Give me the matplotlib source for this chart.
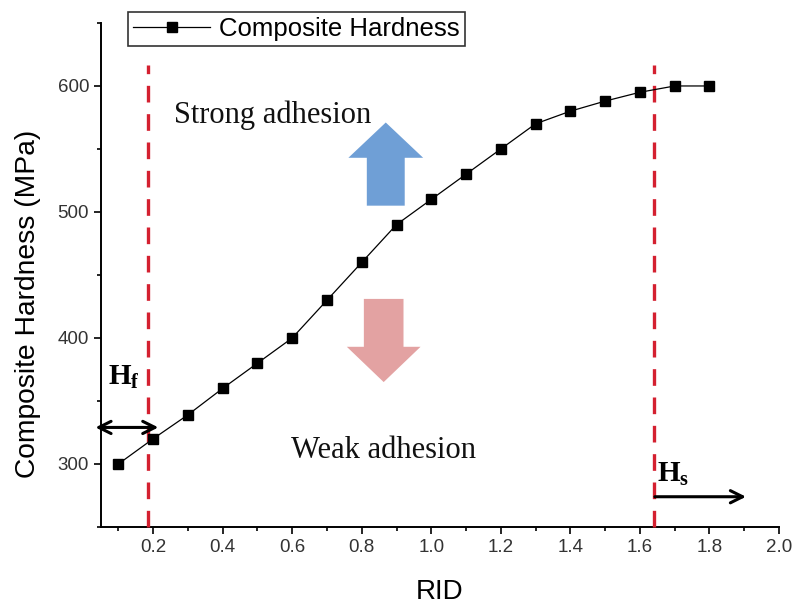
import matplotlib
matplotlib.use("Agg")
import matplotlib.pyplot as plt
from matplotlib.patches import FancyArrow
from matplotlib.ticker import MultipleLocator

# Composite hardness versus relative indentation depth
rid = [0.1, 0.2, 0.3, 0.4, 0.5, 0.6, 0.7, 0.8, 0.9, 1.0,
       1.1, 1.2, 1.3, 1.4, 1.5, 1.6, 1.7, 1.8]
hardness = [300, 320, 339, 360, 380, 400, 430, 460, 490, 510,
            530, 550, 570, 580, 588, 595, 600, 600]

# Boundaries of the film-dominated and substrate-dominated regimes
film_limit = 0.186
substrate_limit = 1.64

x_ticks = [0.2, 0.4, 0.6, 0.8, 1.0, 1.2, 1.4, 1.6, 1.8, 2.0]
y_ticks = [300, 400, 500, 600]

sans = "Liberation Sans"
serif = "Liberation Serif"

plt.rcParams["mathtext.fontset"] = "custom"
plt.rcParams["mathtext.rm"] = serif
plt.rcParams["mathtext.it"] = serif + ":italic"
plt.rcParams["mathtext.bf"] = serif + ":bold"

fig = plt.figure(figsize=(7.99, 6.06), dpi=100)
ax = fig.add_axes([0.1264, 0.1304, 0.8486, 0.8317])

ax.plot(rid, hardness, color="black", lw=0.9, marker="s", ms=7.5,
        mfc="black", mec="black", label="Composite Hardness", zorder=5)

ax.set_xlim(0.05, 2.0)
ax.set_ylim(250, 650)
ax.set_xticks(x_ticks)
ax.set_yticks(y_ticks)
ax.xaxis.set_minor_locator(MultipleLocator(0.1))
ax.yaxis.set_minor_locator(MultipleLocator(50))
ax.tick_params(which="major", direction="out", length=5, width=1.2,
               labelsize=13.5, colors="black")
ax.tick_params(which="minor", direction="out", length=3, width=1.2)
for lab in ax.get_xticklabels() + ax.get_yticklabels():
    lab.set_fontfamily(sans)
    lab.set_color("#333333")

for side in ("top", "right"):
    ax.spines[side].set_visible(False)
for side in ("left", "bottom"):
    ax.spines[side].set_linewidth(1.4)

ax.set_xlabel("RID", fontsize=20, fontfamily=sans, labelpad=17)
ax.set_ylabel("Composite Hardness (MPa)", fontsize=20.3, fontfamily=sans)
ax.yaxis.set_label_coords(-0.0885, 0.4425)

# Regime boundaries
for xv in (film_limit, substrate_limit):
    ax.plot([xv, xv], [250, 617], color="#d42030", lw=2.4,
            dashes=(5, 3.5), zorder=3, clip_on=False)

# Adhesion direction arrows
ax.add_patch(FancyArrow(0.869, 505, 0, 66, width=0.109, head_width=0.215,
                        head_length=28, length_includes_head=True,
                        color="#6f9fd6", lw=0, zorder=2))
ax.add_patch(FancyArrow(0.863, 431, 0, -66, width=0.114, head_width=0.212,
                        head_length=28, length_includes_head=True,
                        color="#e3a2a2", lw=0, zorder=2))

ax.text(0.261, 577, "Strong adhesion", fontsize=22, fontfamily=serif,
        ha="left", va="center", color="#111111")
ax.text(0.597, 311, "Weak adhesion", fontsize=22, fontfamily=serif,
        ha="left", va="center", color="#111111")

# Film and substrate regime markers
ax.annotate("", xy=(0.034, 329), xytext=(0.215, 329),
            arrowprops=dict(arrowstyle="<->", lw=2.2, color="black",
                            mutation_scale=22, shrinkA=0, shrinkB=0),
            annotation_clip=False)
ax.text(0.07, 369, r"$\mathbf{H}_{\mathbf{f}}$", fontsize=21,
        ha="left", va="center")
ax.annotate("", xy=(1.905, 274), xytext=(1.643, 274),
            arrowprops=dict(arrowstyle="->", lw=2.2, color="black",
                            mutation_scale=22, shrinkA=0, shrinkB=0),
            annotation_clip=False)
ax.text(1.65, 292, r"$\mathbf{H}_{\mathbf{s}}$", fontsize=21,
        ha="left", va="center")

leg = ax.legend(loc="upper left", bbox_to_anchor=(128 / 799, 1 - 12 / 606),
                bbox_transform=fig.transFigure, frameon=True, fancybox=False,
                edgecolor="black", borderpad=0.2, handlelength=3.0,
                handletextpad=0.35, borderaxespad=0,
                prop={"family": sans, "size": 18.5})
leg.get_frame().set_linewidth(1.2)

fig.savefig("out.png", dpi=100)
